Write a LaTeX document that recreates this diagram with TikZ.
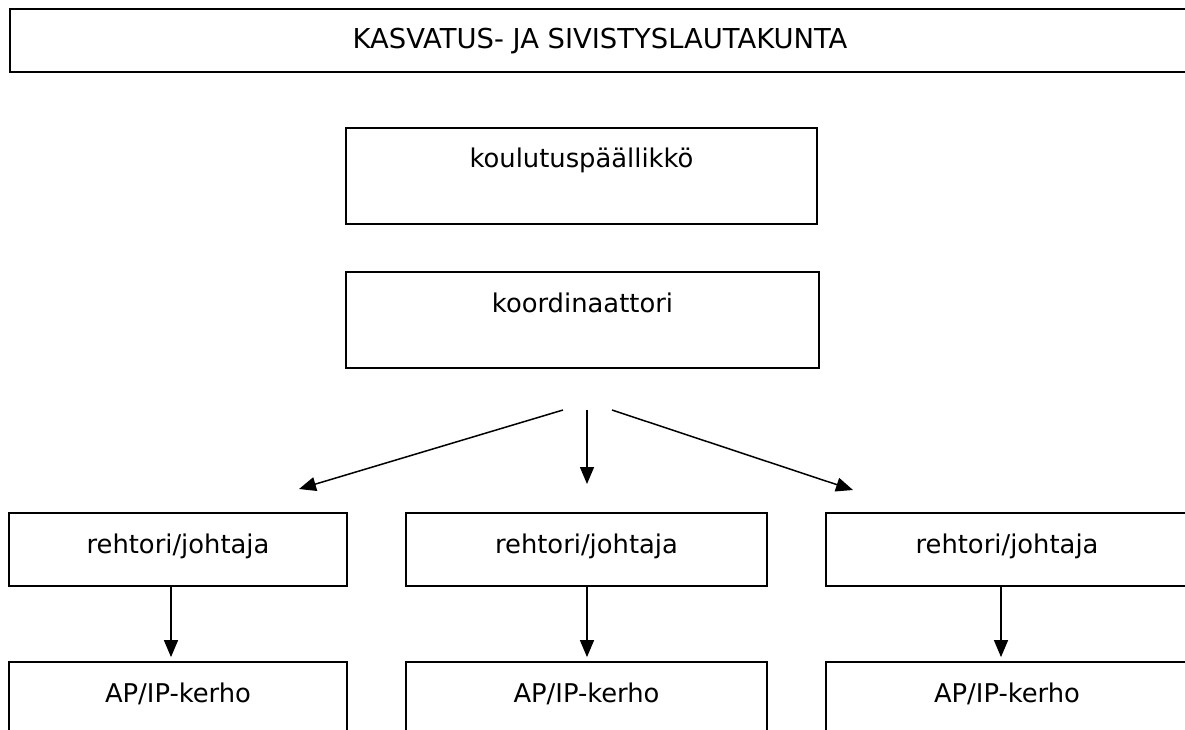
\documentclass[tikz,border=0pt]{standalone}
\usepackage{fontspec}
\setmainfont{DejaVu Sans}
\usetikzlibrary{arrows.meta}
\begin{document}
\begin{tikzpicture}
[x=1pt,y=-1pt,
 boxdecorate/.style={shape=rectangle,draw,line width=1.8pt,inner sep=0pt,
   font=\fontsize{25.8}{30}\selectfont},
 arrowdecorate/.style={-{Triangle[length=17pt,width=14pt]},line width=1.5pt}]
\useasboundingbox (0,0) rectangle (1185,729);
% boxes
\node (lauta) at (600,40.5) [boxdecorate,minimum width=1180,text height=39pt,text depth=24pt,font=\fontsize{27.4}{30}\selectfont] {KASVATUS- JA SIVISTYSLAUTAKUNTA};
\node (koul) at (581.5,176) [boxdecorate,minimum width=471,text height=39pt,text depth=57pt] {koulutuspäällikkö};
\node (koord) at (582.5,320) [boxdecorate,minimum width=473,text height=40pt,text depth=56pt] {koordinaattori};
\node (r1) at (178,549.5) [boxdecorate,minimum width=338,text height=40pt,text depth=33pt] {rehtori/johtaja};
\node (r2) at (586.5,549.5) [boxdecorate,minimum width=361,text height=40pt,text depth=33pt] {rehtori/johtaja};
\node (r3) at (1007,549.5) [boxdecorate,minimum width=362,text height=40pt,text depth=33pt] {rehtori/johtaja};
\node (k1) at (178,707) [boxdecorate,minimum width=338,text height=40pt,text depth=50pt] {AP/IP-kerho};
\node (k2) at (586.5,707) [boxdecorate,minimum width=361,text height=40pt,text depth=50pt] {AP/IP-kerho};
\node (k3) at (1007,707) [boxdecorate,minimum width=362,text height=40pt,text depth=50pt] {AP/IP-kerho};
% arrow ends below koordinaattori
\coordinate (s1) at (563,410);
\coordinate (s2) at (587,410);
\coordinate (s3) at (612,410);
\coordinate (t1) at (299,489);
\coordinate (t2) at (587,484);
\coordinate (t3) at (853,490);
% arrows
\draw[arrowdecorate] (s1) -- (t1);
\draw[arrowdecorate] (s2) -- (t2);
\draw[arrowdecorate] (s3) -- (t3);
\draw[arrowdecorate,shorten >=4pt] ([xshift=-7pt]r1.south) -- ([xshift=-7pt]k1.north);
\draw[arrowdecorate,shorten >=4pt] ([xshift=0.5pt]r2.south) -- ([xshift=0.5pt]k2.north);
\draw[arrowdecorate,shorten >=4pt] ([xshift=-6pt]r3.south) -- ([xshift=-6pt]k3.north);
\end{tikzpicture}
\end{document}
